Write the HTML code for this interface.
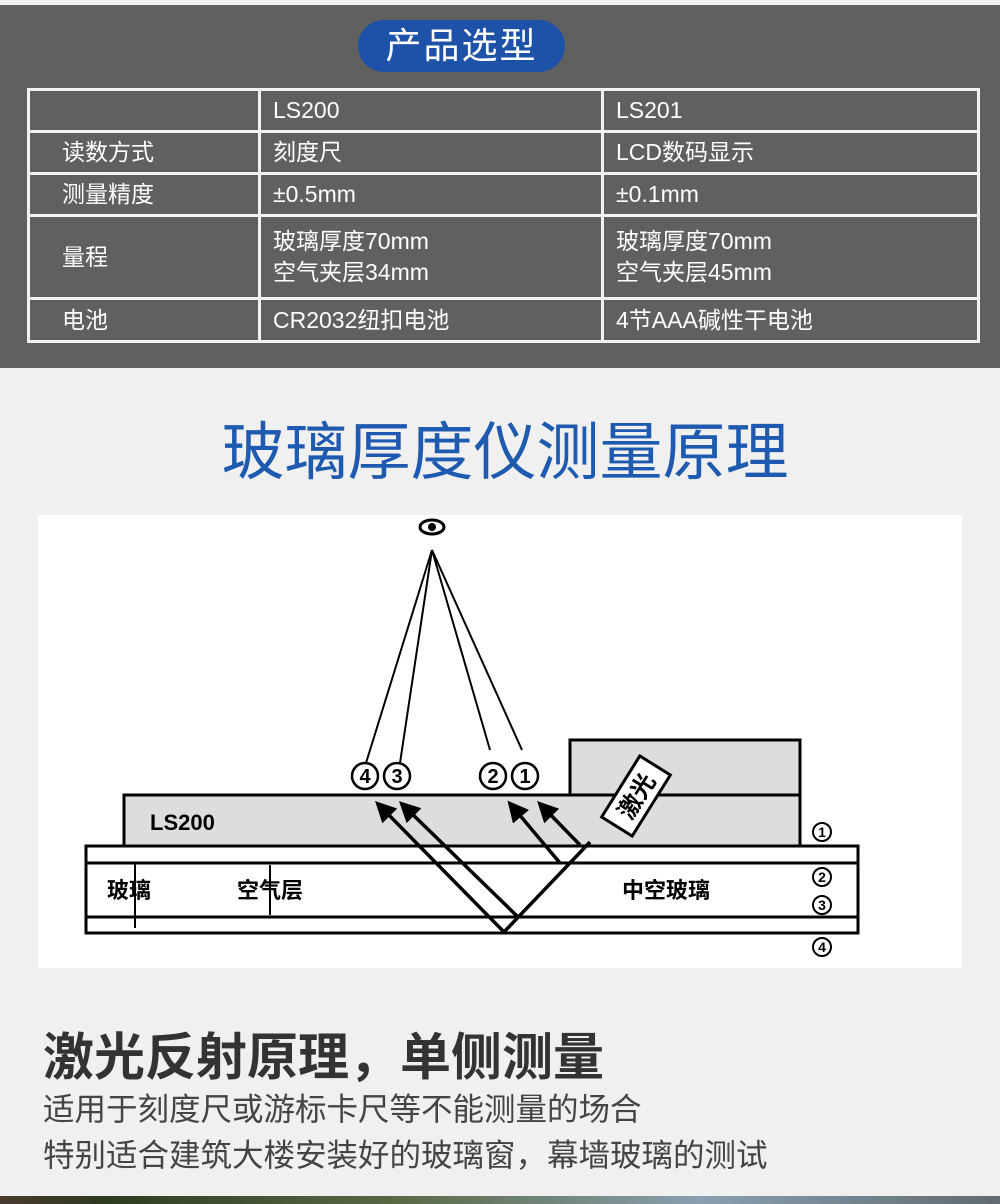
<!DOCTYPE html><html><head><meta charset="utf-8"><style>
body{margin:0;width:1000px;height:1204px;background:#f0f0f0;position:relative;overflow:hidden;font-family:"Liberation Sans","Noto Sans CJK SC",sans-serif}
.top{position:absolute;left:0;top:5px;width:1000px;height:363px;background:#606060}
.pill{position:absolute;left:358px;top:20px;width:207px;height:52px;border-radius:26px;background:#1d52a8;color:#fff;font-size:36px;text-align:center;line-height:52px;letter-spacing:2px}
table{position:absolute;left:27px;top:88px;width:953px;border-collapse:collapse;color:#fff;font-size:23px}
td{border:3px solid #f2f2f2;padding:0 0 0 12px;vertical-align:middle;line-height:31px}
td:first-child{padding-left:32px}
.a{position:absolute;white-space:nowrap}
</style></head><body>
<div class="top"></div>
<div class="pill">产品选型</div>
<table>
<tr style="height:42px"><td style="width:196px"></td><td style="width:328px">LS200</td><td>LS201</td></tr>
<tr style="height:42px"><td>读数方式</td><td>刻度尺</td><td>LCD数码显示</td></tr>
<tr style="height:42px"><td>测量精度</td><td>±0.5mm</td><td>±0.1mm</td></tr>
<tr style="height:83px"><td>量程</td><td>玻璃厚度70mm<br>空气夹层34mm</td><td>玻璃厚度70mm<br>空气夹层45mm</td></tr>
<tr style="height:43px"><td>电池</td><td>CR2032纽扣电池</td><td>4节AAA碱性干电池</td></tr>
</table>
<div class="a" style="left:0;width:1010px;text-align:center;top:414px;font-size:63px;color:#1e5bb0;line-height:78px">玻璃厚度仪测量原理</div>
<svg class="a" style="left:0;top:0" width="1000" height="1204">
<defs><marker id="ar" markerWidth="6" markerHeight="6" refX="4" refY="3" orient="auto"><path d="M0,0L6,3L0,6z" fill="#000"/></marker></defs>
<rect x="38" y="515" width="924" height="453" fill="#fff"/>
<rect x="570" y="740" width="230" height="55" fill="#ddd" stroke="#000" stroke-width="3"/>
<rect x="124" y="795" width="676" height="51" fill="#ddd" stroke="#000" stroke-width="3"/>
<rect x="86" y="846" width="772" height="87" fill="#fff" stroke="#000" stroke-width="3"/>
<line x1="86" y1="863" x2="858" y2="863" stroke="#000" stroke-width="3"/>
<line x1="86" y1="917" x2="858" y2="917" stroke="#000" stroke-width="3"/>
<line x1="135" y1="862" x2="135" y2="928" stroke="#000" stroke-width="2"/>
<line x1="270" y1="865" x2="270" y2="915" stroke="#000" stroke-width="2"/>
<g stroke="#000" stroke-width="2">
<line x1="432" y1="550" x2="366" y2="763"/><line x1="432" y1="550" x2="400" y2="763"/>
<line x1="432" y1="550" x2="490" y2="750"/><line x1="432" y1="550" x2="522" y2="750"/></g>
<ellipse cx="432" cy="527" rx="12" ry="7" fill="#fff" stroke="#000" stroke-width="3"/><circle cx="432" cy="527" r="4" fill="#000"/>
<g stroke="#000" stroke-width="3.5" fill="none">
<polyline points="590,842 504,932 380,806" marker-end="url(#ar)"/>
<polyline points="518,917 404,806" marker-end="url(#ar)"/>
<polyline points="560,863 512,806" marker-end="url(#ar)"/>
<polyline points="580,845 542,806" marker-end="url(#ar)"/>
</g>
<g transform="translate(636,796) rotate(-58)"><rect x="-36" y="-18" width="72" height="36" fill="#fff" stroke="#000" stroke-width="3"/><text x="0" y="9" text-anchor="middle" font-size="24" font-weight="bold" font-family="Liberation Sans,Noto Sans CJK SC,sans-serif">激光</text></g>
<g font-size="20" font-weight="bold" text-anchor="middle" font-family="Liberation Sans,sans-serif" fill="#000">
<g fill="#fff" stroke="#000" stroke-width="2.5"><circle cx="365" cy="776" r="13"/><circle cx="397" cy="776" r="13"/><circle cx="493" cy="776" r="13"/><circle cx="525" cy="776" r="13"/></g>
<text x="365" y="783">4</text><text x="397" y="783">3</text><text x="493" y="783">2</text><text x="525" y="783">1</text>
<g fill="#fff" stroke="#000" stroke-width="2"><circle cx="822" cy="832" r="9"/><circle cx="822" cy="877" r="9"/><circle cx="822" cy="905" r="9"/><circle cx="822" cy="947" r="9"/></g>
<g font-size="14"><text x="822" y="837">1</text><text x="822" y="882">2</text><text x="822" y="910">3</text><text x="822" y="952">4</text></g>
</g>
<g font-size="22" font-weight="bold" font-family="Liberation Sans,Noto Sans CJK SC,sans-serif">
<text x="150" y="830">LS200</text><text x="107" y="898">玻璃</text><text x="237" y="898">空气层</text><text x="622" y="898">中空玻璃</text></g>
<defs><linearGradient id="g" x1="0" x2="1"><stop offset="0" stop-color="#4a3a30"/><stop offset=".1" stop-color="#2e3a20"/><stop offset=".4" stop-color="#5a6a45"/><stop offset=".7" stop-color="#8aa0b0"/><stop offset="1" stop-color="#606a70"/></linearGradient></defs>
<rect x="0" y="1196" width="1000" height="8" fill="url(#g)"/>
</svg>
<div class="a" style="left:43px;top:1016px;font-size:51px;font-weight:bold;color:#333">激光反射原理，单侧测量</div>
<div class="a" style="left:43px;top:1086px;font-size:31.5px;color:#444;line-height:46px">适用于刻度尺或游标卡尺等不能测量的场合<br>特别适合建筑大楼安装好的玻璃窗，幕墙玻璃的测试</div>
</body></html>
